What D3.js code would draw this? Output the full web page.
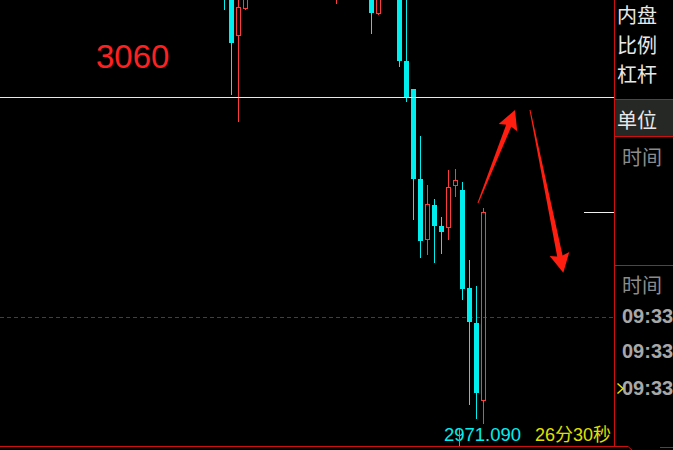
<!DOCTYPE html>
<html><head><meta charset="utf-8">
<script src="https://cdn.jsdelivr.net/npm/d3@7/dist/d3.min.js"></script>
<style>html,body{margin:0;padding:0;background:#000;overflow:hidden}</style>
</head><body>
<svg id="c" width="673" height="450"></svg>
<script>
// ---- data ----
const slots  = [0,1,2,3,4,5,6,7,8,9,10,11,12,13,14,15,16,17,18,19,20,21,22,23,24,25,26,27,28,29,30,31,32,33,34,35,36,37];
const opens  = [3090.0,3089.0,3076.85,3084.22,null,null,null,null,null,null,null,null,null,null,null,null,3087.5,null,null,null,null,3088.0,3082.85,null,null,3087.0,3069.95,3062.32,3037.77,3021.14,3030.68,3024.95,3024.49,3035.95,3034.77,3008.05,2998.50,2977.31];
const highs  = [3091.0,3090.0,3088.0,3090.0,null,null,null,null,null,null,null,null,null,null,null,null,3090.0,null,null,null,null,3089.0,3088.0,null,null,3088.0,3087.0,3062.32,3049.50,3036.14,3032.32,3027.41,3040.23,3040.50,3036.95,3015.68,3008.59,3029.86];
const lows   = [3083.86,3060.68,3053.40,3083.95,null,null,null,null,null,null,null,null,null,null,null,null,3085.50,null,null,null,null,3077.40,3082.58,null,null,3068.40,3058.85,3026.59,3016.31,3017.05,3014.95,3017.40,3021.22,3032.95,3004.77,2976.14,2972.32,2971.09];
const closes = [3087.5,3074.95,3084.68,3088.0,null,null,null,null,null,null,null,null,null,null,null,null,3089.0,null,null,null,null,3083.13,3087.0,null,null,3069.95,3060.14,3037.77,3020.95,3030.95,3024.95,3023.32,3035.59,3037.50,3007.77,2998.77,2979.41,3028.77];
const markLevel = 3060;      // white horizontal line
const dashLevel = 3000;      // dashed red line
const noteText = "3060";
const lowLabel = "2971.090";
const timerLabel = "26分30秒";
const panelLabels = ["内盘","比例","杠杆"];
const unitLabel = "单位";
const timeHeader = "时间";
const timeLabels = ["09:33","09:33","09:33"];
// annotation arrows in (slot, price) units
const arrows = [
  {from:[36.21,3031.23], to:[41.50,3056.59]},
  {from:[43.64,3056.59], to:[48.40,3012.22]}
];

// ---- scales ----
const x = d3.scaleLinear().domain([0,37]).range([224.5,483.5]);
const y = d3.scaleLinear().domain([3000,3060]).range([317.5,97.5]);

const CYAN="#00eeee", RED="#ff3c3c", BORDER="#cc1010";
const svg = d3.select("#c");
svg.append("rect").attr("width",673).attr("height",450).attr("fill","#000");
svg.append("defs").append("clipPath").attr("id","clip")
  .append("rect").attr("x",0).attr("y",0).attr("width",614).attr("height",446);

const plot = svg.append("g").attr("clip-path","url(#clip)");

// dashed level
plot.append("line").attr("x1",0).attr("x2",614)
  .attr("y1",y(dashLevel)).attr("y2",y(dashLevel))
  .attr("stroke","#b01010").attr("stroke-width",1).attr("stroke-dasharray","4,3");

const candles = slots.map((s,i)=>({s,o:opens[i],h:highs[i],l:lows[i],c:closes[i]})).filter(d=>d.o!=null);
candles.forEach(d=>{
  const cx = x(d.s);
  const yt = Math.round(y(Math.max(d.o,d.c))), yb = Math.round(y(Math.min(d.o,d.c)));
  const yh = Math.round(y(d.h)), yl = Math.round(y(d.l));
  if (d.c > d.o) {
    if (yh < yt) plot.append("line").attr("x1",cx).attr("x2",cx).attr("y1",yh).attr("y2",yt).attr("stroke",RED);
    if (yl > yb) plot.append("line").attr("x1",cx).attr("x2",cx).attr("y1",yb).attr("y2",yl).attr("stroke",RED);
    plot.append("rect").attr("x",cx-2).attr("y",yt+0.5).attr("width",4).attr("height",Math.max(0,yb-yt-1))
      .attr("fill","none").attr("stroke",RED).attr("stroke-width",1);
  } else {
    plot.append("line").attr("x1",cx).attr("x2",cx).attr("y1",yh).attr("y2",yl).attr("stroke",CYAN);
    plot.append("rect").attr("x",cx-2.5).attr("y",yt).attr("width",5).attr("height",Math.max(1,yb-yt)).attr("fill",CYAN);
  }
});

// white level line
plot.append("line").attr("x1",0).attr("x2",614)
  .attr("y1",y(markLevel)).attr("y2",y(markLevel)).attr("stroke","#e8e8e8").attr("stroke-width",1);

// last price marker
const lastC = closes[closes.length-1];
plot.append("line").attr("x1",584).attr("x2",614)
  .attr("y1",Math.round(y(lastC))+0.5).attr("y2",Math.round(y(lastC))+0.5).attr("stroke","#f0f0f0");

// red note
svg.append("text").attr("x",96).attr("y",68).text(noteText)
  .attr("font-family","Liberation Sans, Arial, sans-serif").attr("font-size",33).attr("fill","#ff2020");

// arrows
function arrowPath(S,T,headLen,headHalf,w0,w1){
  const dx=T[0]-S[0], dy=T[1]-S[1], L=Math.hypot(dx,dy);
  const ux=dx/L, uy=dy/L, nx=-uy, ny=ux;
  const B=[T[0]-ux*headLen, T[1]-uy*headLen];
  const pts=[
    [S[0]+nx*w0/2,S[1]+ny*w0/2],
    [B[0]+nx*w1/2+ux*2,B[1]+ny*w1/2+uy*2],
    [B[0]+nx*headHalf,B[1]+ny*headHalf],
    T,
    [B[0]-nx*headHalf,B[1]-ny*headHalf],
    [B[0]-nx*w1/2+ux*2,B[1]-ny*w1/2+uy*2],
    [S[0]-nx*w0/2,S[1]-ny*w0/2]
  ];
  return "M"+pts.map(p=>p[0].toFixed(2)+","+p[1].toFixed(2)).join("L")+"Z";
}
arrows.forEach(a=>{
  const S=[x(a.from[0]),y(a.from[1])], T=[x(a.to[0]),y(a.to[1])];
  svg.append("path").attr("d",arrowPath(S,T,19,10,1,5.5)).attr("fill","#ff1e10");
});

// bottom labels
svg.append("text").attr("x",x(37)-1).attr("y",441).attr("text-anchor","middle").text(lowLabel)
  .attr("font-family","Liberation Sans, Arial, sans-serif").attr("font-size",18.5).attr("fill",CYAN);
svg.append("text").attr("x",611).attr("y",441).attr("text-anchor","end").text(timerLabel)
  .attr("font-family","Liberation Sans, Noto Sans CJK SC, sans-serif").attr("font-size",18).attr("fill","#e0e000");
svg.append("line").attr("x1",459.5).attr("x2",459.5).attr("y1",429).attr("y2",446).attr("stroke","#8a8a8a");

// frame lines
svg.append("line").attr("x1",614.5).attr("x2",614.5).attr("y1",0).attr("y2",447).attr("stroke",BORDER);
svg.append("path").attr("d","M0,446.5L628,446.5L633,451").attr("fill","none").attr("stroke",BORDER);
svg.append("line").attr("x1",660).attr("x2",673).attr("y1",447.5).attr("y2",447.5).attr("stroke",BORDER);

// right panel
svg.append("rect").attr("x",615).attr("y",100).attr("width",58).attr("height",36).attr("fill","#262826");
[99.5,136.5,265.5].forEach(yy=>svg.append("line").attr("x1",615).attr("x2",673).attr("y1",yy).attr("y2",yy).attr("stroke",BORDER));
const cjk="Noto Sans CJK SC, sans-serif";
const labelYs=[14,44,73];
panelLabels.forEach((t,i)=>svg.append("text").attr("x",617).attr("y",labelYs[i]).attr("dominant-baseline","central")
  .text(t).attr("font-family",cjk).attr("font-size",20).attr("fill","#e8e8e8"));
svg.append("text").attr("x",617).attr("y",119).attr("dominant-baseline","central")
  .text(unitLabel).attr("font-family",cjk).attr("font-size",20).attr("fill","#e8e8e8");
[156,284].forEach(yy=>svg.append("text").attr("x",622).attr("y",yy).attr("dominant-baseline","central")
  .text(timeHeader).attr("font-family",cjk).attr("font-size",20).attr("fill","#8c8c8c"));
const tYs=[323,358,395];
timeLabels.forEach((t,i)=>svg.append("text").attr("x",622).attr("y",tYs[i]).text(t)
  .attr("font-family","Liberation Sans, Arial, sans-serif").attr("font-weight","bold").attr("font-size",20).attr("fill","#a8a8a8"));
svg.append("path").attr("d","M617.5,383.5L623,388.5L617.5,393.5").attr("fill","none").attr("stroke","#e8e000").attr("stroke-width",1.5);
</script>
</body></html>
